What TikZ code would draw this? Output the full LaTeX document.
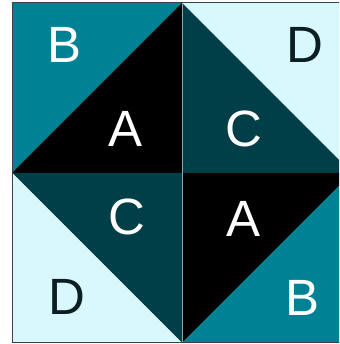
\documentclass[tikz,border=0pt]{standalone}
\usepackage{fontspec}
\setmainfont{Liberation Sans}
\usetikzlibrary{positioning}
\definecolor{quiltTeal}{HTML}{008294}
\definecolor{quiltDark}{HTML}{003E48}
\definecolor{quiltIce}{HTML}{D8F8FD}
\definecolor{quiltInk}{HTML}{0B1F23}
\definecolor{quiltSeam}{HTML}{8FA7AB}
\definecolor{quiltEdge}{HTML}{3A4446}

\begin{document}
\begin{tikzpicture}[x=1pt,y=1pt,
    letter/.style={font=\fontsize{51}{51}\selectfont,inner sep=0pt,
                   text height=36.5pt,text depth=0pt,text=white},
    darkletter/.style={letter,text=quiltInk}]
  \useasboundingbox (0,0) rectangle (339,344);
  \begin{scope}
    \clip (0,0) rectangle (339,344);
    % top left
    \fill[quiltTeal] (12,171) -- (12,341) -- (182,341) -- cycle;
    \fill[black] (12,171) -- (182,341) -- (182,171) -- cycle;
    % top right
    \fill[quiltIce] (182,341) -- (352,341) -- (352,171) -- cycle;
    \fill[quiltDark] (182,341) -- (352,171) -- (182,171) -- cycle;
    % bottom left
    \fill[quiltDark] (12,171) -- (182,171) -- (182,1) -- cycle;
    \fill[quiltIce] (12,171) -- (182,1) -- (12,1) -- cycle;
    % bottom right
    \fill[black] (182,171) -- (352,171) -- (182,1) -- cycle;
    \fill[quiltTeal] (352,171) -- (352,1) -- (182,1) -- cycle;
    \draw[quiltSeam,line width=1pt] (182,1) -- (182,341);
    \draw[quiltEdge,line width=1pt] (12,1) rectangle (352,341);
  \end{scope}
  \node[letter] (b1) at (65,300) {B};
  \node[letter] (a1) at (126,216) {A};
  \node[letter] (c1) at (244,216) {C};
  \node[darkletter] (d1) at (305,299.5) {D};
  \node[letter] (c2) at (127,127.5) {C};
  \node[darkletter] (d2) at (66.5,47.5) {D};
  \node[letter] (a2) at (244,126) {A};
  \node[letter] (b2) at (303,47) {B};
\end{tikzpicture}
\end{document}
